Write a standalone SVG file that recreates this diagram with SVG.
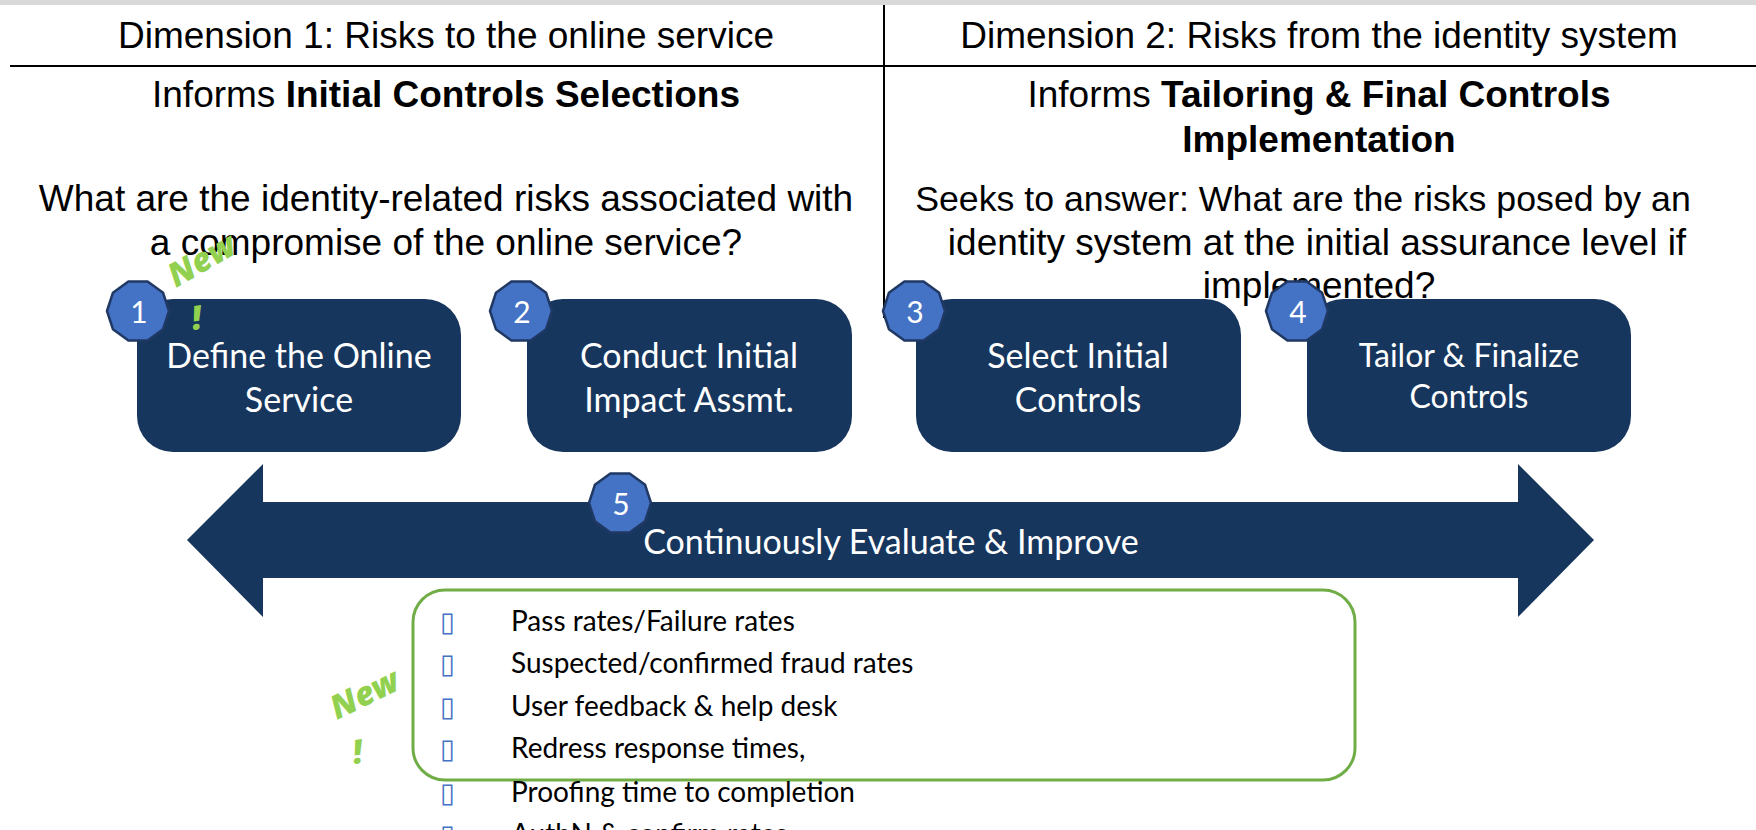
<svg xmlns="http://www.w3.org/2000/svg" width="1756" height="830" viewBox="0 0 1756 830">
  <style>
    .hdr { font-family: "Liberation Sans", Arial, sans-serif; font-size: 37px; fill: #000; text-anchor: middle; }
    .b { font-weight: bold; }
    .step { fill: #17365D; }
    .steptxt { font-family: Lato, "Open Sans", sans-serif; font-size: 34px; fill: #fff; text-anchor: middle; }
    .badge { fill: #4472C4; stroke: #203864; stroke-width: 2.5; stroke-linejoin: round; }
    .num { font-family: Lato, "Open Sans", sans-serif; font-size: 30px; fill: #fff; text-anchor: middle; }
    .item { font-family: Lato, "Open Sans", sans-serif; font-size: 28px; fill: #000; }
    .bul { font-family: "DejaVu Sans", sans-serif; font-size: 27px; fill: #4472C4; }
    .new { font-family: "Open Sans", Lato, sans-serif; font-size: 33px; font-weight: 800; font-style: italic; fill: #92D050; }
    .rule { stroke: #000; stroke-width: 2; }
  </style>
  <defs>
    <polygon id="badge" points="9.6,-29.5 25.1,-18.2 31,0 25.1,18.2 9.6,29.5 -9.6,29.5 -25.1,18.2 -31,0 -25.1,-18.2 -9.6,-29.5"/>
  </defs>

  <rect width="1756" height="830" fill="#fff"/>
  <rect width="1756" height="5" fill="#d9d9d9"/>

  <!-- table header: two dimensions -->
  <g id="header">
    <line class="rule" x1="884" y1="5" x2="884" y2="318"/>
    <line class="rule" x1="10" y1="66" x2="1756" y2="66"/>
    <text class="hdr" x="446" y="48">Dimension 1: Risks to the online service</text>
    <text class="hdr" x="1319" y="48">Dimension 2: Risks from the identity system</text>
    <text class="hdr" x="446" y="107">Informs <tspan class="b">Initial Controls Selections</tspan></text>
    <text class="hdr" x="1319" y="107">Informs <tspan class="b">Tailoring &amp; Final Controls</tspan></text>
    <text class="hdr b" x="1319" y="152">Implementation</text>
    <text class="hdr" x="446" y="211">What are the identity-related risks associated with</text>
    <text class="hdr" x="446" y="255">a compromise of the online service?</text>
    <text class="hdr" x="1303" y="211" style="font-size:35.7px">Seeks to answer: What are the risks posed by an</text>
    <text class="hdr" x="1317" y="255">identity system at the initial assurance level if</text>
    <text class="hdr" x="1319" y="298">implemented?</text>
  </g>

  <!-- continuous improvement double arrow -->
  <g id="cycle-arrow">
    <polygon class="step" points="187,540 263,464 263,502 1518,502 1518,464 1594,540 1518,617 1518,578 263,578 263,617"/>
    <text class="steptxt" x="891" y="554">Continuously Evaluate &amp; Improve</text>
  </g>

  <g id="step1">
    <rect class="step" x="137" y="299" width="324" height="153" rx="36"/>
    <text class="steptxt" x="299" y="368">Define the Online</text>
    <text class="steptxt" x="299" y="412">Service</text>
    <use href="#badge" class="badge" x="138" y="311"/>
    <text class="num" x="139" y="323">1</text>
  </g>

  <g id="step2">
    <rect class="step" x="527" y="299" width="325" height="153" rx="36"/>
    <text class="steptxt" x="689" y="368">Conduct Initial</text>
    <text class="steptxt" x="689" y="412">Impact Assmt.</text>
    <use href="#badge" class="badge" x="521" y="311"/>
    <text class="num" x="522" y="323">2</text>
  </g>

  <g id="step3">
    <rect class="step" x="916" y="299" width="325" height="153" rx="36"/>
    <text class="steptxt" x="1078" y="368">Select Initial</text>
    <text class="steptxt" x="1078" y="412">Controls</text>
    <use href="#badge" class="badge" x="914" y="311"/>
    <text class="num" x="915" y="323">3</text>
  </g>

  <g id="step4">
    <rect class="step" x="1307" y="299" width="324" height="153" rx="36"/>
    <text class="steptxt" x="1469" y="367" style="font-size:32px">Tailor &amp; Finalize</text>
    <text class="steptxt" x="1469" y="408" style="font-size:32px">Controls</text>
    <use href="#badge" class="badge" x="1297" y="311"/>
    <text class="num" x="1298" y="323">4</text>
  </g>

  <g id="step5">
    <use href="#badge" class="badge" x="620" y="503"/>
    <text class="num" x="621" y="515">5</text>
  </g>

  <!-- metrics list -->
  <g id="metrics">
    <rect x="413" y="590" width="942" height="190" rx="32" fill="none" stroke="#70AD47" stroke-width="3"/>
    <text class="bul" x="440" y="631">▯</text>
    <text class="item" x="511" y="631">Pass rates/Failure rates</text>
    <text class="bul" x="440" y="673">▯</text>
    <text class="item" x="511" y="673">Suspected/confirmed fraud rates</text>
    <text class="bul" x="440" y="716">▯</text>
    <text class="item" x="511" y="716">User feedback &amp; help desk</text>
    <text class="bul" x="440" y="758">▯</text>
    <text class="item" x="511" y="758">Redress response times,</text>
    <text class="bul" x="440" y="802">▯</text>
    <text class="item" x="511" y="802">Proofing time to completion</text>
    <text class="bul" x="440" y="844">▯</text>
    <text class="item" x="511" y="844">AuthN &amp; confirm rates</text>
  </g>

  <!-- "New!" callouts -->
  <g id="new-1">
    <text class="new" transform="translate(176,288) rotate(-30)">New</text>
    <text class="new" transform="translate(193,330) rotate(-8)">!</text>
  </g>
  <g id="new-2">
    <text class="new" transform="translate(337,720) rotate(-26)">New</text>
    <text class="new" transform="translate(354,764) rotate(-8)">!</text>
  </g>
</svg>
